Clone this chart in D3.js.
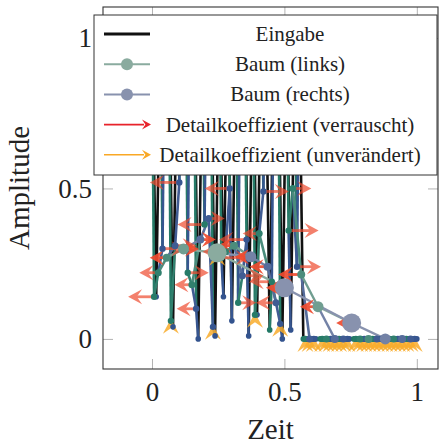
<!DOCTYPE html>
<html lang="de">
<head>
  <meta charset="UTF-8">
  <title>Haar-Baum</title>
  <style>
    body { margin: 0; background: #fff; }
    svg { display: block; }
    svg text { font-family: "Liberation Serif", "DejaVu Serif", serif; fill: #222; }
  </style>
  <script src="https://cdn.jsdelivr.net/npm/d3@7/dist/d3.min.js"></script>
</head>
<body>
  <div id="chart"></div>
  <script>
    // input samples, t = i / 63 (high samples sit behind the legend)
    var inputSignal = [
      1.0, 0.14, 1.0, 1.0, 1.0, 0.04, 1.0, 1.0, 1.0, 1.0, 1.0, 0.00, 1.0, 1.0, 1.0, 0.01,
      1.0, 0.14, 1.0, 0.06, 1.0, 1.0, 1.0, 0.01, 1.0, 0.08, 1.0, 1.0, 0.03, 1.0, 1.0, 0.00,
      1.0, 0.03, 1.0, 1.0, 0, 0, 0, 0, 0, 0, 0, 0, 0, 0, 0, 0,
      0, 0, 0, 0, 0, 0, 0, 0, 0, 0, 0, 0, 0, 0, 0, 0
    ];
    // tree node values per level
    var avgLevel1 = [0.14, 0.30, 0.06, 0.52, 0.22, 0.10, 0.38, 0.04, 0.27, 0.50, 0.12, 0.33, 0.08, 0.49, 0.19, 0.05,
                     0.36, 0.24, 0, 0, 0, 0, 0, 0, 0, 0, 0, 0, 0, 0, 0, 0];
    var avgLevel2 = [0.22, 0.31, 0.18, 0.40, 0.29, 0.21, 0.35, 0.12, 0.50, 0, 0, 0, 0, 0, 0, 0];
    var avgLevel3 = [0.27, 0.33, 0.31, 0.24, 0.214, 0, 0, 0];
    var avgLevel4 = [0.299, 0.273, 0.107, 0];
    var avgLevel5 = [0.286, 0.053];
    var avgLevel6 = [0.17];
    // noisy detail coefficients per level
    var detailLevel1 = [0.28, -0.22, 0.03, 0.35, -0.18, 0.15, 0.30, -0.02, -0.33, 0.26, -0.12, 0.31, 0.02, -0.27, 0.20, 0.01,
                        -0.36, -0.24, 0, 0, 0, 0, 0, 0, 0, 0, 0, 0, 0, 0, 0, 0];
    var detailLevel2 = [0.14, -0.19, 0.11, -0.08, 0.22, -0.17, 0.09, 0.16, -0.13, 0, 0, 0, 0, 0, 0, 0];
    var detailLevel3 = [0.10, -0.07, 0.09, 0.12, 0.22, 0, 0, 0];
    var detailLevel4 = [-0.07, 0.08, 0.12, 0];
    var detailLevel5 = [0.03, 0.07];
    var detailLevel6 = [0.13];

    var xTicks = [0, 0.5, 1];
    var yTicks = [0, 0.5, 1];
    var legendLabels = ['Eingabe', 'Baum (links)', 'Baum (rechts)',
                        'Detailkoeffizient (verrauscht)', 'Detailkoeffizient (unverändert)'];

    var x = d3.scaleLinear().domain([-0.185, 1.08]).range([103, 438]);
    var y = d3.scaleLinear().domain([-0.1, 1.103]).range([369, 7]);

    var levels = [inputSignal, avgLevel1, avgLevel2, avgLevel3, avgLevel4, avgLevel5, avgLevel6];
    var details = [null, detailLevel1, detailLevel2, detailLevel3, detailLevel4, detailLevel5, detailLevel6];
    var nSamples = inputSignal.length;
    var rootLevel = levels.length - 1;
    var threshold = 0.06;

    var teal = d3.interpolateRgb('#217865', '#8aab9f');
    var blue = d3.interpolateRgb('#33538e', '#8892ae');
    var levelTone = [0, 0.05, 0.15, 0.4, 0.75, 1, 1];
    var radius = d3.scaleOrdinal().domain([0, 1, 2, 3, 4, 5, 6]).range([2.8, 3.2, 3.5, 4, 5.5, 9.5, 9.5]);
    var redCol = '#ef4b2f', yellowCol = '#f8ab2c';

    function nodeTime(level, j) {
      var span = Math.pow(2, level);
      return (j * span + (span - 1) / 2) / (nSamples - 1);
    }
    function colorOf(side, tone) {
      return side === 'left' ? teal(tone) : blue(tone);
    }

    var nodes = [], byLevel = [];
    levels.forEach(function(vals, k) {
      byLevel[k] = vals.map(function(v, j) {
        var n = { level: k, index: j, t: nodeTime(k, j), v: v,
                  side: (k < rootLevel && j % 2 === 0) ? 'left' : 'right',
                  detail: k > 0 ? details[k][j] : null };
        nodes.push(n);
        return n;
      });
    });

    var edges = [];
    for (var k = 1; k <= rootLevel; k++) {
      byLevel[k].forEach(function(p) {
        [byLevel[p.level - 1][2 * p.index], byLevel[p.level - 1][2 * p.index + 1]].forEach(function(c) {
          if (c) edges.push({ parent: p, child: c });
        });
      });
    }

    var svg = d3.select('#chart').append('svg').attr('width', 442).attr('height', 444);
    svg.append('defs').append('clipPath').attr('id', 'plotClip').append('rect')
      .attr('x', x.range()[0]).attr('y', y.range()[1])
      .attr('width', x.range()[1] - x.range()[0]).attr('height', y.range()[0] - y.range()[1]);

    // ticks (inside, mirrored)
    function styleAxis(g) {
      g.select('.domain').remove();
      g.attr('font-family', null).attr('font-size', 27);
      g.selectAll('line').attr('stroke', '#b3b3b3');
    }
    svg.append('g').attr('transform', 'translate(0,' + y.range()[0] + ')')
      .call(d3.axisBottom(x).tickValues(xTicks).tickSize(-10).tickPadding(13).tickFormat(d3.format('~g')))
      .call(styleAxis);
    svg.append('g').attr('transform', 'translate(0,' + y.range()[1] + ')')
      .call(d3.axisTop(x).tickValues(xTicks).tickSize(-10).tickFormat(''))
      .call(styleAxis);
    svg.append('g').attr('transform', 'translate(' + x.range()[0] + ',0)')
      .call(d3.axisLeft(y).tickValues(yTicks).tickSize(-10).tickPadding(11).tickFormat(d3.format('~g')))
      .call(styleAxis);
    svg.append('g').attr('transform', 'translate(' + x.range()[1] + ',0)')
      .call(d3.axisRight(y).tickValues(yTicks).tickSize(-10).tickFormat(''))
      .call(styleAxis);

    var plot = svg.append('g').attr('clip-path', 'url(#plotClip)');

    // input signal
    plot.append('path')
      .datum(inputSignal)
      .attr('fill', 'none').attr('stroke', '#111').attr('stroke-width', 2.6)
      .attr('stroke-linejoin', 'miter').attr('stroke-miterlimit', 10)
      .attr('d', d3.line().x(function(d, i) { return x(i / (nSamples - 1)); }).y(function(d) { return y(d); }));

    // tree edges
    plot.append('g').selectAll('line').data(edges).enter().append('line')
      .attr('x1', function(e) { return x(e.parent.t); }).attr('y1', function(e) { return y(e.parent.v); })
      .attr('x2', function(e) { return x(e.child.t); }).attr('y2', function(e) { return y(e.child.v); })
      .attr('stroke', function(e) { return colorOf(e.child.side, levelTone[e.parent.level]); })
      .attr('stroke-width', function(e) { return e.parent.level > 3 ? 2.4 : 2.6; });

    function arrowHead(tx, ty, dx, dy, len, hw) {
      // stealth head, tip at (tx,ty), direction (dx,dy)
      var px = -dy, py = dx;
      var p = [[tx, ty],
               [tx - len * dx + hw * px, ty - len * dy + hw * py],
               [tx - 0.62 * len * dx, ty - 0.62 * len * dy],
               [tx - len * dx - hw * px, ty - len * dy - hw * py]];
      return 'M' + p.join('L') + 'Z';
    }

    var coeffNodes = nodes.filter(function(n) { return n.level > 0; });
    var unchanged = coeffNodes.filter(function(n) { return Math.abs(n.detail) < threshold; });
    var noisy = coeffNodes.filter(function(n) { return Math.abs(n.detail) >= threshold; });

    // unchanged coefficients
    plot.append('g').selectAll('path').data(unchanged).enter().append('path')
      .attr('fill', yellowCol).attr('fill-opacity', 0.85)
      .attr('d', function(n) { return arrowHead(x(n.t), y(n.v) - 2, 0, -1, 15, 8); });

    // noisy coefficients
    var arrowG = plot.append('g').selectAll('g').data(noisy).enter().append('g')
      .attr('opacity', function(n) { return n.level > 2 ? 0.92 : 0.7; });
    arrowG.each(function(n) {
      var dir = n.detail > 0 ? -1 : 1;
      var x0 = x(n.t), y0 = y(n.v);
      var x1 = x0 + dir * (12 + Math.abs(n.detail) * 50);
      var g = d3.select(this);
      g.append('line').attr('x1', x0).attr('y1', y0).attr('x2', x1 - dir * 8).attr('y2', y0)
        .attr('stroke', redCol).attr('stroke-width', 2.8);
      g.append('path').attr('d', arrowHead(x1, y0, dir, 0, 14, 7.5)).attr('fill', redCol);
    });

    // tree nodes
    plot.append('g').selectAll('circle')
      .data(nodes.slice().sort(function(a, b) { return a.level - b.level; }))
      .enter().append('circle')
      .attr('cx', function(n) { return x(n.t); }).attr('cy', function(n) { return y(n.v); })
      .attr('r', function(n) { return radius(n.level); })
      .attr('fill', function(n) { return colorOf(n.side, levelTone[n.level]); });

    // frame
    svg.append('rect')
      .attr('x', x.range()[0]).attr('y', y.range()[1])
      .attr('width', x.range()[1] - x.range()[0]).attr('height', y.range()[0] - y.range()[1])
      .attr('fill', 'none').attr('stroke', '#333').attr('stroke-width', 1.1);

    // axis titles
    svg.append('text').attr('x', (x.range()[0] + x.range()[1]) / 2).attr('y', 439)
      .attr('text-anchor', 'middle').attr('font-size', 29)
      .text('Zeit');
    svg.append('text').attr('transform', 'translate(29,' + (y.range()[0] + y.range()[1]) / 2 + ') rotate(-90)')
      .attr('text-anchor', 'middle').attr('font-size', 29)
      .text('Amplitude');

    // legend
    var legend = svg.append('g');
    legend.append('rect').attr('x', 94).attr('y', 15).attr('width', 343).attr('height', 160)
      .attr('fill', '#fff').attr('stroke', '#333').attr('stroke-width', 1);
    var rows = legend.selectAll('g').data(legendLabels).enter().append('g')
      .attr('transform', function(d, i) { return 'translate(0,' + (34 + i * 30.2) + ')'; });
    rows.append('text').attr('x', 290).attr('y', 7).attr('text-anchor', 'middle')
      .attr('font-size', 21)
      .text(function(d) { return d; });
    rows.each(function(d, i) {
      var g = d3.select(this);
      if (i === 0) {
        g.append('line').attr('x1', 104).attr('x2', 150).attr('stroke', '#111').attr('stroke-width', 3);
      } else if (i < 3) {
        var c = i === 1 ? teal(1) : blue(1);
        g.append('line').attr('x1', 104).attr('x2', 150).attr('stroke', c).attr('stroke-width', 2);
        g.append('circle').attr('cx', 127).attr('r', 6).attr('fill', c);
      } else {
        var ac = i === 3 ? '#e8232b' : '#f9a825';
        g.append('line').attr('x1', 104).attr('x2', 144).attr('stroke', ac).attr('stroke-width', 1.6);
        g.append('path').attr('d', arrowHead(151, 0, 1, 0, 9, 5)).attr('fill', ac);
      }
    });
  </script>
</body>
</html>
